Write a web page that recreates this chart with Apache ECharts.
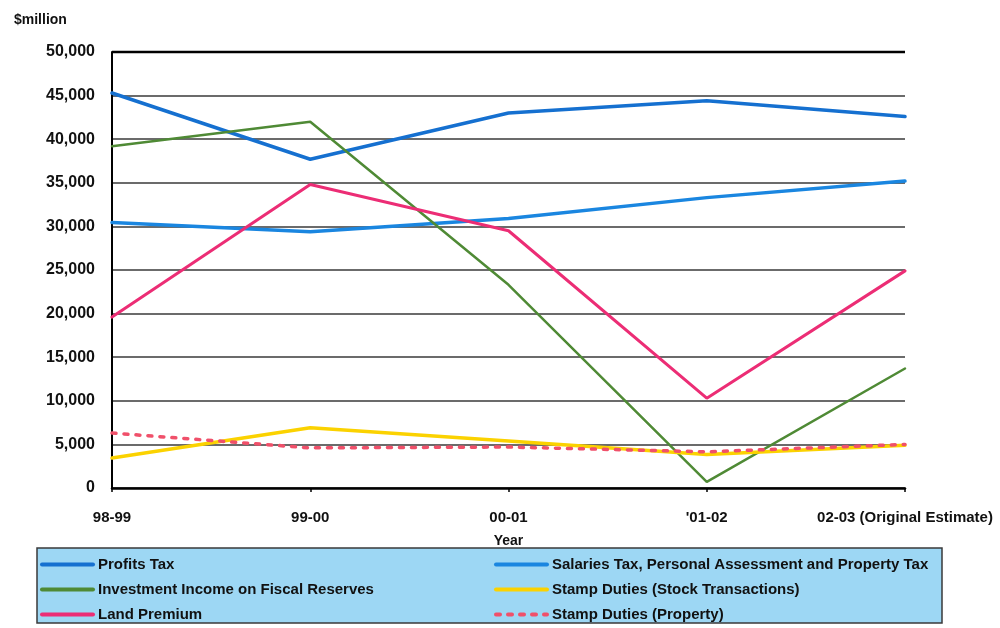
<!DOCTYPE html>
<html>
<head>
<meta charset="utf-8">
<title>Government Revenue by Source</title>
<script src="https://cdn.jsdelivr.net/npm/echarts@6/dist/echarts.min.js"></script>
<style>
  html, body { margin: 0; padding: 0; background: #ffffff; }
  #chart { width: 1000px; height: 628px; }
</style>
</head>
<body>
<div id="chart"></div>
<script>
// Revenue by source, $million
const years = ['98-99', '99-00', '00-01', "'01-02", '02-03 (Original Estimate)'];
const profitsTax = [45300, 37700, 43000, 44400, 42600];
const salariesTax = [30450, 29400, 30900, 33300, 35200];
const investmentIncome = [39200, 42000, 23300, 700, 13700];
const landPremium = [19600, 34800, 29500, 10300, 24900];
const stampStock = [3450, 6900, 5400, 3850, 4900];
const stampProperty = [6300, 4600, 4700, 4150, 5000];
const yTicks = { min: 0, max: 50000, step: 5000 };

const FONT = '"Liberation Sans", Arial, sans-serif';

const chart = echarts.init(document.getElementById('chart'), null, { renderer: 'canvas' });

function lineSeries(name, data, color, width, type) {
  return {
    name: name,
    type: 'line',
    data: data,
    symbol: 'none',
    smooth: false,
    z: 3,
    lineStyle: { color: color, width: width, type: type || 'solid', cap: 'round' },
    itemStyle: { color: color }
  };
}

const legendText = { fontFamily: FONT, fontWeight: 'bold', fontSize: 15, color: '#111' };
const legendCommon = {
  orient: 'vertical',
  top: 557,
  height: 70,
  padding: 0,
  itemWidth: 51,
  itemHeight: 14,
  itemGap: 10,
  // hide the point marker, keep a thick line sample
  itemStyle: { opacity: 0 },
  lineStyle: { width: 4 },
  textStyle: legendText
};

chart.setOption({
  animation: false,
  backgroundColor: '#ffffff',
  title: {
    text: '$million',
    left: 9,
    top: 8,
    textStyle: { fontFamily: FONT, fontWeight: 'bold', fontSize: 14, color: '#111' }
  },
  graphic: [{
    type: 'rect',
    z: -1,
    shape: { x: 37, y: 548, width: 905, height: 75 },
    style: { fill: '#9dd7f4', stroke: '#3a3a3a', lineWidth: 1.5 }
  }, {
    // frame edge along the top of the plot
    type: 'line',
    z: 10,
    shape: { x1: 112, y1: 52, x2: 905, y2: 52 },
    style: { stroke: '#000', lineWidth: 2.5 }
  }],
  legend: [Object.assign({}, legendCommon, {
    left: 40,
    data: ['Profits Tax', 'Investment Income on Fiscal Reserves', 'Land Premium']
  }), Object.assign({}, legendCommon, {
    left: 494,
    data: ['Salaries Tax, Personal Assessment and Property Tax', 'Stamp Duties (Stock Transactions)', 'Stamp Duties (Property)']
  })],
  grid: { left: 112, right: 95, top: 52, bottom: 140, containLabel: false },
  xAxis: {
    type: 'category',
    data: years,
    boundaryGap: false,
    name: 'Year',
    nameLocation: 'middle',
    nameGap: 46,
    nameTextStyle: { fontFamily: FONT, fontWeight: 'bold', fontSize: 14, color: '#111' },
    axisLine: { show: true, lineStyle: { color: '#000', width: 2.5 } },
    axisTick: { show: true, alignWithLabel: true, length: 4, lineStyle: { color: '#000', width: 1.5 } },
    axisLabel: { margin: 22, fontFamily: FONT, fontWeight: 'bold', fontSize: 15, color: '#111', interval: 0 },
    splitLine: { show: false }
  },
  yAxis: {
    type: 'value',
    min: yTicks.min,
    max: yTicks.max,
    interval: yTicks.step,
    axisLine: { show: true, lineStyle: { color: '#000', width: 2 } },
    axisTick: { show: false },
    axisLabel: {
      margin: 17,
      fontFamily: FONT,
      fontWeight: 'bold',
      fontSize: 16,
      color: '#111',
      formatter: v => v.toLocaleString('en-US')
    },
    splitLine: { show: true, lineStyle: { color: '#3a3a3a', width: 1.6 } }
  },
  series: [
    lineSeries('Profits Tax', profitsTax, '#1570d0', 3.5),
    lineSeries('Salaries Tax, Personal Assessment and Property Tax', salariesTax, '#1a86e0', 3.5),
    lineSeries('Investment Income on Fiscal Reserves', investmentIncome, '#4f8a35', 2.5),
    lineSeries('Stamp Duties (Stock Transactions)', stampStock, '#fbd200', 3.5),
    lineSeries('Land Premium', landPremium, '#ec2d75', 3),
    lineSeries('Stamp Duties (Property)', stampProperty, '#f0506a', 3.5, [4, 8])
  ]
});
</script>
</body>
</html>
